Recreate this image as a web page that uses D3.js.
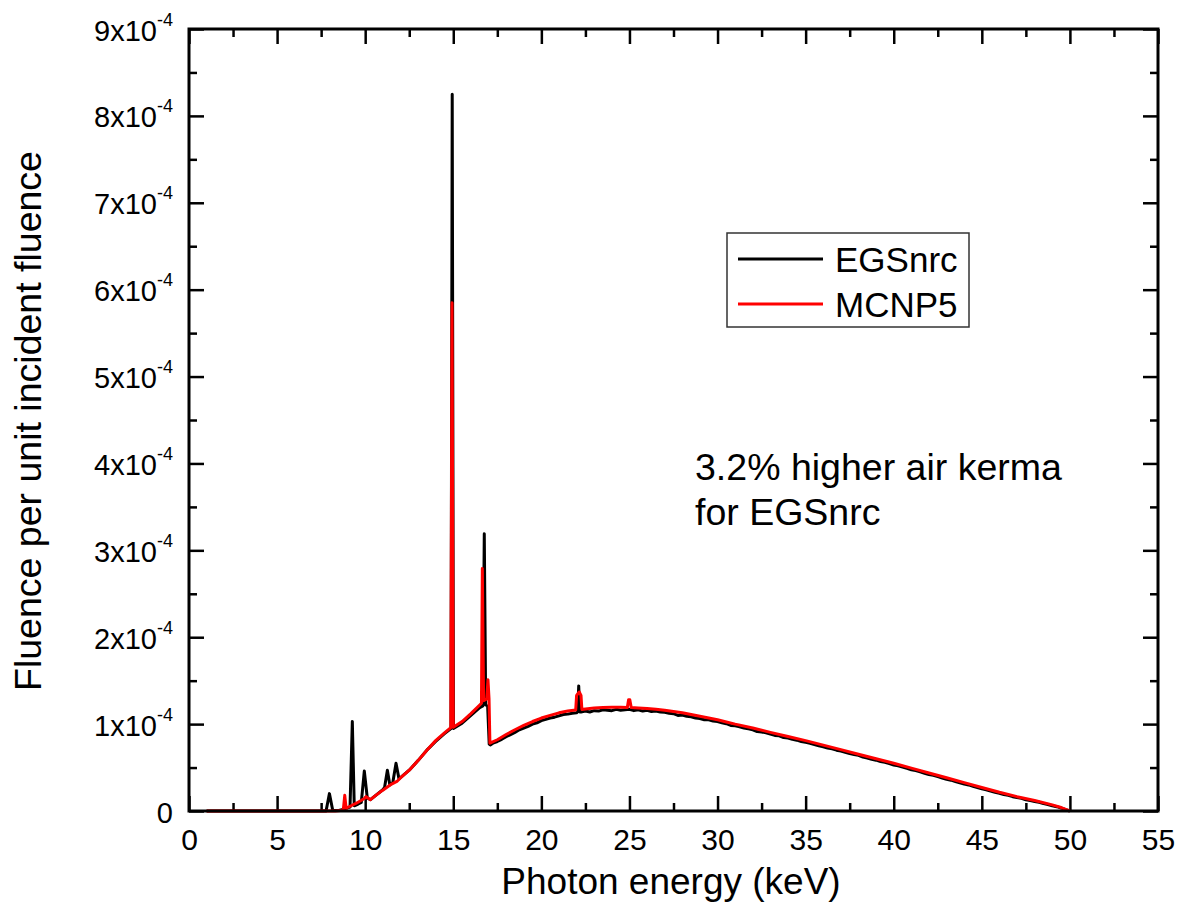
<!DOCTYPE html>
<html>
<head>
<meta charset="utf-8">
<script src="https://cdn.jsdelivr.net/npm/d3@7"></script>
<style>
  body { margin: 0; background: #fff; }
  svg { display: block; }
  text { font-family: "Liberation Sans", Arial, Helvetica, sans-serif; fill: #000; }
</style>
</head>
<body>
<svg id="chart" width="1178" height="920"></svg>
<script>
// Fluence values are in units of 1e-4 (per unit incident fluence)
const mcnpEnergy = [1, 8.3, 8.6, 8.76, 8.84, 8.92, 9.0, 9.5, 10.0, 10.05, 10.3, 10.6, 11.0, 11.5, 11.8, 12.0, 12.5, 13.0, 13.5, 14.0, 14.5, 14.86, 14.93, 15.0, 15.5, 16.0, 16.5, 16.6, 16.65, 16.72, 16.9, 16.97, 17.03, 17.08, 17.5, 18, 18.5, 19, 19.5, 20, 20.5, 21, 21.5, 21.95, 22.0, 22.15, 22.25, 22.3, 22.5, 23, 23.5, 24, 24.5, 24.88, 24.95, 25.02, 25.1, 25.5, 26, 26.5, 27, 27.5, 28, 28.5, 29, 29.5, 30, 30.5, 31, 32, 33, 34, 35, 36, 37, 38, 39, 40, 41, 42, 43, 44, 45, 46, 47, 48, 49, 49.5, 50];
const mcnpFluence = [0, 0, 0.005, 0.015, 0.18, 0.03, 0.04, 0.09, 0.15, 0.165, 0.13, 0.18, 0.24, 0.31, 0.34, 0.38, 0.47, 0.58, 0.70, 0.81, 0.90, 0.96, 5.85, 0.965, 1.03, 1.12, 1.22, 1.24, 2.79, 1.27, 1.29, 1.51, 1.29, 0.78, 0.82, 0.88, 0.935, 0.985, 1.03, 1.07, 1.10, 1.13, 1.15, 1.163, 1.33, 1.37, 1.33, 1.168, 1.175, 1.185, 1.19, 1.195, 1.195, 1.192, 1.28, 1.28, 1.19, 1.185, 1.18, 1.17, 1.16, 1.145, 1.13, 1.11, 1.09, 1.07, 1.05, 1.025, 1.0, 0.955, 0.905, 0.858, 0.81, 0.758, 0.706, 0.654, 0.602, 0.55, 0.494, 0.438, 0.382, 0.326, 0.27, 0.215, 0.165, 0.12, 0.07, 0.04, 0];

const egsEnergy = [1, 7.78, 7.97, 8.16, 8.5, 8.8, 9.0, 9.14, 9.27, 9.38, 9.6, 9.78, 9.95, 10.12, 10.3, 10.6, 11.0, 11.1, 11.26, 11.4, 11.57, 11.75, 11.92, 12.5, 13.0, 13.5, 14.0, 14.5, 14.87, 14.94, 15.01, 15.5, 16.0, 16.5, 16.68, 16.76, 16.84, 16.95, 17.04, 17.1,
  17.25, 17.5, 17.75, 18.0, 18.25, 18.5, 18.75, 19.0, 19.25, 19.5, 19.75, 20.0, 20.25, 20.5, 20.75, 21.0, 21.25, 21.5, 21.75, 22.0, 22.06, 22.12, 22.18, 22.25, 22.5, 22.75,
  23.0, 23.25, 23.5, 23.75, 24.0, 24.25, 24.5, 24.75, 25.0, 25.25, 25.5, 25.75, 26.0, 26.25, 26.5, 26.75, 27.0, 27.25, 27.5, 27.75, 28.0, 28.25, 28.5, 28.75,
  29.0, 29.25, 29.5, 29.75, 30.0, 30.25, 30.5, 30.75, 31.0, 31.25, 31.5, 31.75, 32.0, 32.25, 32.5, 32.75, 33.0, 33.25, 33.5, 33.75, 34.0, 34.25, 34.5, 34.75,
  35.0, 35.25, 35.5, 35.75, 36.0, 36.25, 36.5, 36.75, 37.0, 37.25, 37.5, 37.75, 38.0, 38.25, 38.5, 38.75, 39.0, 39.25, 39.5, 39.75, 40.0, 40.25, 40.5, 40.75,
  41.0, 41.25, 41.5, 41.75, 42.0, 42.25, 42.5, 42.75, 43.0, 43.25, 43.5, 43.75, 44.0, 44.25, 44.5, 44.75, 45.0, 45.25, 45.5, 45.75, 46.0, 46.25, 46.5, 46.75,
  47.0, 47.25, 47.5, 47.75, 48.0, 48.25, 48.5, 48.75, 49.0, 49.25, 49.5, 49.75, 50.0];
const egsFluence = [0, 0, 0.20, 0.005, 0.005, 0.02, 0.035, 0.045, 1.03, 0.06, 0.08, 0.10, 0.46, 0.15, 0.13, 0.18, 0.245, 0.27, 0.47, 0.30, 0.33, 0.55, 0.37, 0.47, 0.58, 0.70, 0.80, 0.89, 0.95, 8.25, 0.95, 1.01, 1.10, 1.19, 1.21, 3.19, 1.22, 1.21, 0.77, 0.76,
  0.78, 0.80, 0.825, 0.855, 0.88, 0.905, 0.935, 0.955, 0.975, 1.0, 1.015, 1.04, 1.055, 1.07, 1.08, 1.095, 1.11, 1.115, 1.125, 1.13, 1.14, 1.44, 1.14, 1.14, 1.15, 1.14,
  1.155, 1.15, 1.165, 1.16, 1.155, 1.17, 1.16, 1.165, 1.17, 1.155, 1.165, 1.15, 1.16, 1.145, 1.15, 1.14, 1.135, 1.125, 1.12, 1.10, 1.105, 1.09, 1.085, 1.07,
  1.065, 1.05, 1.05, 1.035, 1.03, 1.015, 1.005, 0.985, 0.98, 0.97, 0.955, 0.945, 0.935, 0.915, 0.91, 0.90, 0.885, 0.87, 0.865, 0.845, 0.84, 0.825, 0.815, 0.80,
  0.79, 0.78, 0.765, 0.75, 0.74, 0.725, 0.715, 0.70, 0.69, 0.675, 0.66, 0.65, 0.64, 0.62, 0.61, 0.595, 0.585, 0.57, 0.56, 0.545, 0.53, 0.52, 0.505, 0.49,
  0.475, 0.465, 0.45, 0.435, 0.42, 0.41, 0.395, 0.38, 0.365, 0.355, 0.34, 0.325, 0.31, 0.30, 0.285, 0.27, 0.255, 0.245, 0.23, 0.215, 0.205, 0.19, 0.18, 0.165,
  0.155, 0.145, 0.13, 0.12, 0.11, 0.10, 0.085, 0.075, 0.06, 0.05, 0.035, 0.015, 0];

const xMajorTicks = [0, 5, 10, 15, 20, 25, 30, 35, 40, 45, 50, 55];
const xMinorTicks = [2.5, 7.5, 12.5, 17.5, 22.5, 27.5, 32.5, 37.5, 42.5, 47.5, 52.5];
const yMajorMantissa = [0, 1, 2, 3, 4, 5, 6, 7, 8, 9];
const yMinorMantissa = [0.5, 1.5, 2.5, 3.5, 4.5, 5.5, 6.5, 7.5, 8.5];
const yExponent = -4;
const seriesNames = ["EGSnrc", "MCNP5"];
const seriesColors = ["#000000", "#ff0000"];
const noteLines = ["3.2% higher air kerma", "for EGSnrc"];
const xTitle = "Photon energy (keV)";
const yTitle = "Fluence per unit incident fluence";

const unit = Math.pow(10, yExponent);
const svg = d3.select("#chart");
const plot = { left: 189, right: 1158, top: 29, bottom: 811 };

const x = d3.scaleLinear().domain([0, 55]).range([plot.left, plot.right]);
const y = d3.scaleLinear().domain([0, 9 * unit]).range([plot.bottom, plot.top]);

const majorLen = 15, minorLen = 8, tickW = 2.5;

function styleAxis(g) {
  g.select(".domain").remove();
  g.selectAll(".tick line").attr("stroke", "#000").attr("stroke-width", tickW);
}

// bottom axis with labels
const gx = svg.append("g").attr("transform", `translate(0,${plot.bottom})`)
  .call(d3.axisBottom(x).tickValues(xMajorTicks).tickSize(-majorLen).tickFormat(d3.format("d")));
styleAxis(gx);
gx.selectAll(".tick text").attr("font-size", 30).attr("font-family", null).attr("y", 17).attr("dy", "0.72em");
const gxm = svg.append("g").attr("transform", `translate(0,${plot.bottom})`)
  .call(d3.axisBottom(x).tickValues(xMinorTicks).tickSize(-minorLen).tickFormat(""));
styleAxis(gxm);

// top axis, ticks only
const gt = svg.append("g").attr("transform", `translate(0,${plot.top})`)
  .call(d3.axisTop(x).tickValues(xMajorTicks).tickSize(-majorLen).tickFormat(""));
styleAxis(gt);
const gtm = svg.append("g").attr("transform", `translate(0,${plot.top})`)
  .call(d3.axisTop(x).tickValues(xMinorTicks).tickSize(-minorLen).tickFormat(""));
styleAxis(gtm);

// left axis with "Nx10^-4" labels
const gy = svg.append("g").attr("transform", `translate(${plot.left},0)`)
  .call(d3.axisLeft(y).tickValues(yMajorMantissa.map(v => v * unit)).tickSize(-majorLen).tickPadding(16).tickFormat(""));
styleAxis(gy);
gy.selectAll(".tick text").each(function (d) {
  const t = d3.select(this).attr("font-size", 29).attr("font-family", null).attr("dy", "0.38em").text(null);
  const m = Math.round(d / unit);
  if (m === 0) { t.text("0"); return; }
  t.append("tspan").text(`${m}x10`);
  t.append("tspan").attr("font-size", 18).attr("dy", -15).text(String(yExponent));
});
const gym = svg.append("g").attr("transform", `translate(${plot.left},0)`)
  .call(d3.axisLeft(y).tickValues(yMinorMantissa.map(v => v * unit)).tickSize(-minorLen).tickFormat(""));
styleAxis(gym);

// right axis, ticks only
const gr = svg.append("g").attr("transform", `translate(${plot.right},0)`)
  .call(d3.axisRight(y).tickValues(yMajorMantissa.map(v => v * unit)).tickSize(-majorLen).tickFormat(""));
styleAxis(gr);
const grm = svg.append("g").attr("transform", `translate(${plot.right},0)`)
  .call(d3.axisRight(y).tickValues(yMinorMantissa.map(v => v * unit)).tickSize(-minorLen).tickFormat(""));
styleAxis(grm);

// spectra
const line = d3.line().x(d => x(d[0])).y(d => y(d[1] * unit));
const egs = egsEnergy.map((e, i) => [e, egsFluence[i]]);
const mcnp = mcnpEnergy.map((e, i) => [e, mcnpFluence[i]]);
[egs, mcnp].forEach((data, i) => {
  svg.append("path").datum(data).attr("d", line)
    .attr("fill", "none").attr("stroke", seriesColors[i])
    .attr("stroke-width", 3).attr("stroke-linejoin", "round");
});

// frame
svg.append("rect").attr("x", plot.left).attr("y", plot.top)
  .attr("width", plot.right - plot.left).attr("height", plot.bottom - plot.top)
  .attr("fill", "none").attr("stroke", "#000").attr("stroke-width", 3);

// legend
const lg = svg.append("g").attr("transform", "translate(727,233)");
lg.append("rect").attr("width", 242).attr("height", 94).attr("fill", "#fff")
  .attr("stroke", "#333").attr("stroke-width", 1.5);
seriesNames.forEach((name, i) => {
  const cy = 26 + i * 45;
  lg.append("line").attr("x1", 11).attr("x2", 96).attr("y1", cy).attr("y2", cy)
    .attr("stroke", seriesColors[i]).attr("stroke-width", 3);
  lg.append("text").attr("x", 108).attr("y", cy + 13).attr("font-size", 35).text(name);
});

// annotation
noteLines.forEach((s, i) => {
  svg.append("text").attr("x", 695).attr("y", 480 + i * 45).attr("font-size", 37.5).text(s);
});

// axis titles
svg.append("text").attr("x", 671).attr("y", 894)
  .attr("text-anchor", "middle").attr("font-size", 37).text(xTitle);
svg.append("text").attr("transform", "translate(41,421) rotate(-90)")
  .attr("text-anchor", "middle").attr("font-size", 37.5).text(yTitle);
</script>
</body>
</html>
